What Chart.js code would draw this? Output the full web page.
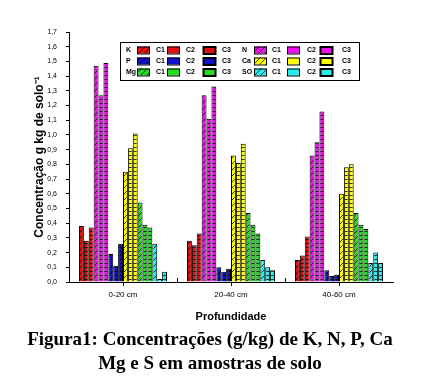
<!DOCTYPE html>
<html>
<head>
<meta charset="utf-8">
<script src="https://cdn.jsdelivr.net/npm/chart.js@4.4.1/dist/chart.umd.min.js"></script>
<style>
  html, body { margin: 0; padding: 0; background: #fff; }
  #wrap { position: relative; width: 424px; height: 384px; }
  #box { position: absolute; left: 0; top: 0; width: 424px; height: 330px; }
  #cap { position: absolute; left: 0; top: 327px; width: 420px; text-align: center;
         font: bold 19px "Liberation Serif", "Times New Roman", serif; line-height: 24px; color: #000; }
</style>
</head>
<body>
<div id="wrap">
  <div id="box"><canvas id="c"></canvas></div>
  <div id="cap">Figura1: Concentrações (g/kg) de K, N, P, Ca<br>Mg e S em amostras de solo</div>
</div>
<script>
// profundidades
const categories = ['0-20 cm', '20-40 cm', '40-60 cm'];
const yTicksMax = 1.7;

// valores (g/kg)
const kC1 = [0.38, 0.28, 0.15];
const kC2 = [0.28, 0.25, 0.18];
const kC3 = [0.37, 0.33, 0.31];
const nC1 = [1.47, 1.27, 0.86];
const nC2 = [1.27, 1.11, 0.95];
const nC3 = [1.49, 1.33, 1.16];
const pC1 = [0.19, 0.10, 0.08];
const pC2 = [0.11, 0.07, 0.04];
const pC3 = [0.26, 0.09, 0.05];
const caC1 = [0.75, 0.86, 0.60];
const caC2 = [0.91, 0.81, 0.78];
const caC3 = [1.01, 0.94, 0.80];
const mgC1 = [0.54, 0.47, 0.47];
const mgC2 = [0.39, 0.39, 0.39];
const mgC3 = [0.37, 0.33, 0.36];
const sC1 = [0.26, 0.15, 0.13];
const sC2 = [0.02, 0.10, 0.20];
const sC3 = [0.07, 0.08, 0.13];

const elementNames = ['K', 'N', 'P', 'Ca', 'Mg', 'SO'];
const classNames = ['C1', 'C2', 'C3'];
const seriesData = [
  [kC1, kC2, kC3], [nC1, nC2, nC3], [pC1, pC2, pC3],
  [caC1, caC2, caC3], [mgC1, mgC2, mgC3], [sC1, sC2, sC3]
];
const colors = ['#dd1111', '#ee11ee', '#1111cc', '#ffff00', '#22dd22', '#22eeee'];

function hatch(color) {
  const p = document.createElement('canvas');
  p.width = 6; p.height = 6;
  const g = p.getContext('2d');
  g.fillStyle = color; g.fillRect(0, 0, 6, 6);
  g.strokeStyle = 'rgba(0,0,0,0.75)'; g.lineWidth = 1;
  g.beginPath(); g.moveTo(0, 6); g.lineTo(6, 0); g.moveTo(-1, 1); g.lineTo(1, -1); g.moveTo(5, 7); g.lineTo(7, 5); g.stroke();
  return g.createPattern(p, 'repeat');
}
function ladder(color) {
  const p = document.createElement('canvas');
  p.width = 4; p.height = 4;
  const g = p.getContext('2d');
  g.fillStyle = color; g.fillRect(0, 0, 4, 4);
  g.fillStyle = 'rgba(0,0,0,0.75)'; g.fillRect(0, 3, 4, 1);
  return g.createPattern(p, 'repeat');
}

const datasets = [];
seriesData.forEach((set, i) => {
  set.forEach((vals, c) => {
    datasets.push({
      label: elementNames[i] + ' ' + classNames[c],
      data: vals,
      backgroundColor: c === 0 ? hatch(colors[i]) : ladder(colors[i]),
      borderColor: '#000',
      borderWidth: 1,
      categoryPercentage: 0.815,
      barPercentage: 1
    });
  });
});

// legenda em caixa dentro do grafico
const legendBox = {
  id: 'legendBox',
  afterDraw(chart) {
    const ctx = chart.ctx;
    const labelX = [126, 242];
    const swX = [[137, 167, 203], [254, 287, 320]];
    const txX = [[156, 186, 222], [272, 307, 342]];
    ctx.save();
    ctx.fillStyle = '#fff';
    ctx.fillRect(120.5, 42.5, 239, 38);
    ctx.strokeStyle = '#000'; ctx.lineWidth = 1;
    ctx.strokeRect(120.5, 42.5, 239, 38);
    ctx.font = 'bold 7px "Liberation Sans", Arial, sans-serif';
    ctx.textBaseline = 'middle';
    elementNames.forEach((name, i) => {
      const half = i % 2, y = 50 + Math.floor(i / 2) * 11;
      ctx.fillStyle = '#000';
      ctx.fillText(name, labelX[half], y + 0.5);
      for (let c = 0; c < 3; c++) {
        const x = swX[half][c];
        ctx.fillStyle = c === 0 ? hatch(colors[i]) : colors[i];
        ctx.fillRect(x, y - 3.5, 13, 7);
        ctx.strokeStyle = '#000';
        ctx.lineWidth = c === 2 ? 2 : 1;
        ctx.strokeRect(x + 0.5, y - 3, 12, 7);
        ctx.fillStyle = '#000';
        ctx.fillText(classNames[c], txX[half][c], y + 0.5);
      }
    });
    // marcas entre profundidades
    const xs = chart.scales.x;
    ctx.strokeStyle = '#000'; ctx.lineWidth = 1;
    for (let k = 0; k < categories.length - 1; k++) {
      const px = Math.round(xs.getPixelForValue(k + 0.5)) + 0.5;
      ctx.beginPath(); ctx.moveTo(px, xs.top); ctx.lineTo(px, xs.top - 4); ctx.stroke();
    }
    ctx.restore();
  }
};

new Chart(document.getElementById('c'), {
  type: 'bar',
  data: { labels: categories, datasets: datasets },
  plugins: [legendBox],
  options: {
    responsive: true,
    maintainAspectRatio: false,
    animation: false,
    layout: { padding: { top: 32, right: 31, left: 0, bottom: 0 } },
    plugins: { legend: { display: false }, tooltip: { enabled: false } },
    scales: {
      x: {
        grid: { display: true, offset: false, drawOnChartArea: false, drawTicks: true, tickLength: 4, color: '#000' },
        border: { display: true, color: '#000' },
        ticks: { color: '#000', padding: 4, font: { size: 8, family: '"Liberation Sans", Arial, sans-serif' } },
        title: { display: true, text: 'Profundidade', color: '#000', padding: { top: 0, bottom: 6 },
                 font: { size: 11, weight: 'bold', family: '"Liberation Sans", Arial, sans-serif' } },
        afterFit: s => { s.height = 48; }
      },
      y: {
        min: 0, max: yTicksMax,
        grid: { display: true, drawOnChartArea: false, drawTicks: true, tickLength: 3, color: '#000' },
        border: { display: true, color: '#000' },
        ticks: { stepSize: 0.1, color: '#000', padding: 9,
                 font: { size: 7, family: '"Liberation Sans", Arial, sans-serif' },
                 callback: v => v.toFixed(1).replace('.', ',') },
        title: { display: true, text: 'Concentração g kg de solo⁻¹', color: '#000', padding: { top: 32, bottom: 0 },
                 font: { size: 12, weight: 'bold', family: '"Liberation Sans", Arial, sans-serif' } },
        afterFit: s => { s.width = 69; }
      }
    }
  }
});
</script>
</body>
</html>
